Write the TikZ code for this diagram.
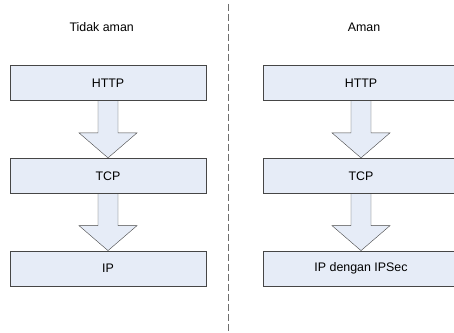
\documentclass[tikz,border=0pt]{standalone}
\usepackage{fontspec}
\setmainfont{Liberation Sans}
\usetikzlibrary{positioning,calc,backgrounds}

\definecolor{layerfill}{RGB}{230,236,247}
\definecolor{layerline}{RGB}{70,70,70}
\definecolor{divline}{RGB}{110,110,110}

\tikzset{every picture/.style={line width=0.75pt}}
\tikzset{
	layer/.style={draw=layerline, fill=layerfill, minimum width=196pt, minimum height=35pt, inner sep=0pt, font=\fontsize{12.4}{15}\selectfont},
	title/.style={inner sep=0pt, font=\fontsize{12.4}{15}\selectfont},
	blockarrow/.style={draw=layerline, fill=layerfill, line join=miter},
	divider/.style={draw=divline, dash pattern=on 6.7pt off 3.3pt}}

\begin{document}
\begin{tikzpicture}[x=1pt,y=1pt]
	\useasboundingbox (0,0) rectangle (454,332);

	% Titles
	\node[title] (tleft) at (101.7,305) {Tidak aman};
	\node[title] (tright) at (364,305) {Aman};

	% Divider
	\coordinate (divtop) at (228.5,328);
	\coordinate (divbot) at (228.5,0);
	\draw[divider] (divtop) -- (divbot);

	% Left stack
	\node[layer] (http1) at (108,249) {HTTP};
	\node[layer, below=57pt of http1] (tcp1) {TCP};
	\node[layer, below=57pt of tcp1] (ip1) {IP};

	% Right stack
	\node[layer] (http2) at (361,249) {HTTP};
	\node[layer, below=57pt of http2] (tcp2) {TCP};
	\node[layer, below=57pt of tcp2] (ip2) {IP dengan IPSec};

	% Block arrows
	\begin{scope}[on background layer]
	\foreach \a/\b in {http1/tcp1, tcp1/ip1, http2/tcp2, tcp2/ip2}{
		\draw[blockarrow] ($(\a.south)+(-10,0)$) -- ++(0,-32) -- ++(-19,0) -- (\b.north)
			-- ($(\b.north)+(29,25)$) -- ++(-19,0) -- ($(\a.south)+(10,0)$);
	}
	\end{scope}
\end{tikzpicture}
\end{document}
